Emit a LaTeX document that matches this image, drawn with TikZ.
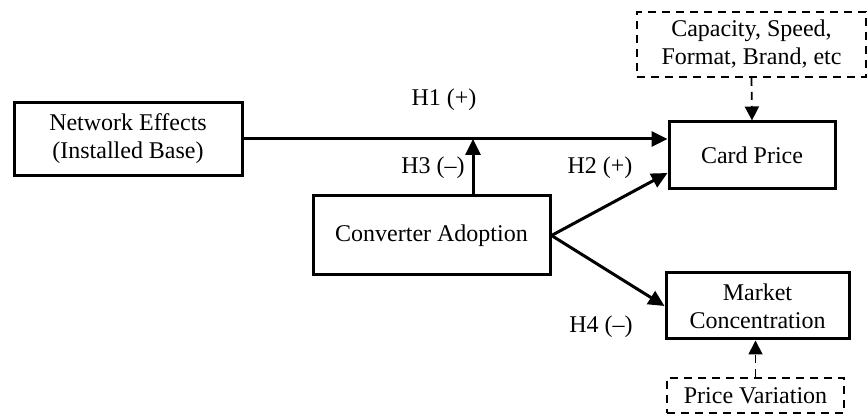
\documentclass[tikz,border=0pt]{standalone}
\usepackage{fontspec}
\setmainfont{Liberation Serif}
\usepackage{tikz}
\usetikzlibrary{arrows.meta,calc}

\begin{document}
\begin{tikzpicture}[x=0.5pt,y=-0.5pt,
  font=\fontsize{12}{14}\selectfont,
  varbox/.style={draw,line width=1.5pt,align=center,inner sep=0pt},
  ctrlbox/.style={draw,dash pattern=on 4pt off 3pt,line width=0.9pt,align=center,inner sep=0pt},
  hyp/.style={line width=1.5pt,-{Triangle[length=8pt,width=7.5pt]}},
  ctrl/.style={dash pattern=on 4pt off 3pt,line width=0.9pt,-{Triangle[length=7pt,width=7pt]}}]
\useasboundingbox (0,0) rectangle (867,415);
% variables
\node[varbox,minimum width=114pt,minimum height=36.5pt] (net) at (128,139) {Network Effects\\(Installed Base)};
\node[varbox,minimum width=118.5pt,minimum height=39.5pt] (conv) at (431.5,235.5) {Converter Adoption};
\node[varbox,minimum width=83pt,minimum height=33.5pt] (card) at (752,155.5) {Card Price};
\node[varbox,minimum width=91.5pt,minimum height=33pt] (market) at (757.5,306) {Market\\Concentration};
% controls
\node[ctrlbox,minimum width=114.5pt,minimum height=32.5pt] (attrs) at (751.5,44.5) {Capacity, Speed,\\Format, Brand, etc};
\node[ctrlbox,minimum width=88.5pt,minimum height=17.5pt] (pvar) at (755.5,395.5) {Price Variation};
%
\coordinate (mod) at (473,139);
\coordinate (cardin) at ($(card.west)!0.5!(card.south west)$);
\draw[hyp] (net.east) -- (net.east -| card.west);
\draw[hyp] (conv.north -| mod) -- (mod);
\draw[hyp] (conv.east) -- (cardin);
\draw[hyp] (conv.east) -- (market.west);
\draw[ctrl] (attrs.south) -- (card.north);
\draw[ctrl] (pvar.north) -- (pvar.north |- market.south);
% hypotheses
\node (h1) at (444,100) {H1 (+)};
\node (h3) at (433,168) {H3 (--)};
\node (h2) at (600,168) {H2 (+)};
\node (h4) at (601,327) {H4 (--)};
\end{tikzpicture}
\end{document}
